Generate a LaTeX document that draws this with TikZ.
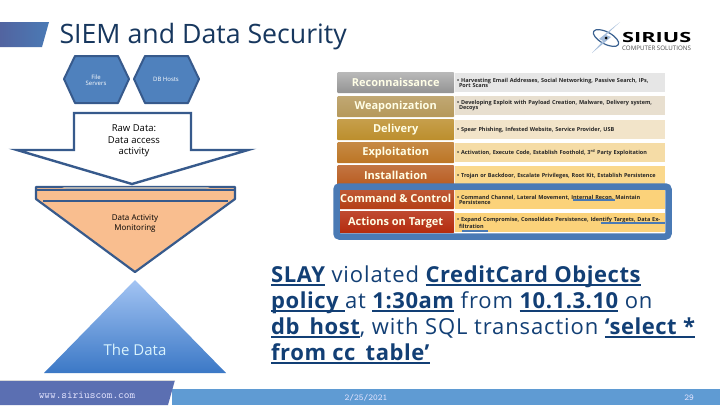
\documentclass[tikz,border=0pt]{standalone}
\usepackage{fontspec}
\usepackage{xcolor}
\usetikzlibrary{shapes}
\setmainfont{Open Sans}
\definecolor{darkline}{HTML}{375A8C}
\definecolor{frameblue}{HTML}{4A7AB5}
\definecolor{hexfill}{HTML}{4F81BD}
\definecolor{titleblue}{HTML}{17375E}
\definecolor{linkblue}{HTML}{123F75}
\definecolor{funnelfill}{HTML}{F9BE8F}
\definecolor{tritop}{HTML}{A3C4F3}
\definecolor{tribot}{HTML}{3B78C6}
\definecolor{footleft}{HTML}{5B6FB2}
\definecolor{footright}{HTML}{5F9BD3}
\definecolor{notea}{HTML}{E6E6E6}
\definecolor{noteb}{HTML}{E8DFCF}
\definecolor{notec}{HTML}{F2E4C9}
\definecolor{noted}{HTML}{F5DCA6}
\definecolor{notee}{HTML}{FAD88C}
\definecolor{notef}{HTML}{FBD27A}
\definecolor{barweapon}{HTML}{B5985A}
\definecolor{bardelivery}{HTML}{BC8E2C}
\definecolor{barexploit}{HTML}{BC7524}
\definecolor{barinstall}{HTML}{B85C20}
\definecolor{barcommand}{HTML}{B43E14}
\definecolor{baractions}{HTML}{B42A0C}
\newcommand{\fsize}[1]{\fontsize{#1}{#1}\selectfont}
\newcommand{\lnk}[1]{\setbox0\hbox{\bfseries\addfontfeatures{LetterSpace=2.5} #1}\rlap{\rule[-2.8pt]{\wd0}{1.4pt}}\box0{}}
\begin{document}
\begin{tikzpicture}[x=1pt,y=-1pt,
  hexbox/.style={draw=darkline,line width=2pt,fill=hexfill,line join=round},
  smalltext/.style={text=white,align=center,font=\fsize{6}},
  blackcap/.style={text=black,align=center},
  barbox/.style={anchor=north west,minimum width=117pt,minimum height=21pt,inner sep=0pt,rounded corners=1pt,text=white!90!yellow,font=\bfseries\fsize{11}},
  descbox/.style={anchor=north west,minimum width=210pt,text width=206pt,minimum height=19pt,inner sep=0pt,align=left,text=black!85,font=\bfseries\fsize{5.5}}]
\useasboundingbox (0,0) rectangle (720,405);
\fill[white] (0,0) rectangle (720,405);
% title
\shade[left color=footleft!90!black,right color=frameblue] (0,22) -- (49,22) -- (42,47) -- (0,47) -- cycle;
\node (title) [anchor=west,text=titleblue,font=\fsize{26.7}] at (56,37) {SIEM and Data Security};
% logo
\draw[frameblue!80!black,line width=1.2pt,rotate around={-28:(606,38)}] (606,38) ellipse (14 and 6);
\fill[frameblue!50] (620,22) -- (606,35) -- (611,37) -- (592,53) -- (603,41) -- (599,39) -- cycle;
\fill[black] (606,38) circle (1.5);
\node (sirius) [anchor=west,inner sep=0pt,text height=10pt,text depth=0pt,text=black,font=\bfseries\fsize{14}] at (622,37) {\scalebox{1.55}[1]{SIRIUS}};
\node (solutions) [anchor=west,inner sep=0pt,text height=4.5pt,text depth=0pt,text=black!70,font=\fsize{6.2}] at (622,48.5) {COMPUTER SOLUTIONS};
% hosts
\draw[hexbox] (75,56) -- (118,56) -- (129,79) -- (118,103) -- (75,103) -- (64,79) -- cycle;
\draw[hexbox] (145,56) -- (188,56) -- (199,79) -- (188,103) -- (145,103) -- (134,79) -- cycle;
\node (files) [smalltext] at (96,80) {File\\Servers};
\node (dbhosts) [smalltext] at (166,79) {DB Hosts};
% raw data arrow
\draw[draw=darkline,line width=2.4pt,fill=white,line join=miter] (74,113) -- (191,113) -- (191,150) -- (248,150) -- (132,184) -- (17,150) -- (74,150) -- cycle;
\node (rawdata) [blackcap,font=\fsize{9.5},align=center,inner sep=0pt] at (134,141) {Raw Data:\\[2pt]Data access\\[2pt]activity};
% funnel
\draw[draw=darkline,line width=2.2pt,fill=funnelfill,line join=round] (36,187) -- (235,187) -- (235,199) -- (135,272) -- (36,199) -- cycle;
\fill[gray!60] (62,187) -- (210,187) -- (205,189) -- (67,189) -- cycle;
\draw[darkline,line width=2pt] (36,190) -- (235,190);
\draw[darkline,line width=2pt] (43,201) -- (228,201);
\node (monitor) [blackcap,font=\fsize{8},align=center,inner sep=0pt] at (135,224) {Data Activity\\[2pt]Monitoring};
% the data
\shade[top color=tritop,bottom color=tribot] (135,280) -- (226,373) -- (44,373) -- cycle;
\node (thedata) [text=white!85!cyan,font=\fsize{15},inner sep=0pt] at (135,350) {The Data};
% kill chain
\node (recon) [barbox,top color=gray!55,bottom color=gray!85] at (337,72) {Reconnaissance};
\node (weapon) [barbox,top color=barweapon!85,bottom color=barweapon] at (337,96) {Weaponization};
\node (delivery) [barbox,top color=bardelivery!85,bottom color=bardelivery] at (337,119) {Delivery};
\node (exploit) [barbox,top color=barexploit!85,bottom color=barexploit] at (337,142) {Exploitation};
\node (install) [barbox,top color=barinstall!85,bottom color=barinstall] at (337,165) {Installation};
\node (command) [barbox,top color=barcommand!85,bottom color=barcommand] at (337,188) {Command \& Control};
\node (actions) [barbox,top color=baractions!85,bottom color=baractions,minimum height=22pt] at (337,211) {Actions on Target};
\node (reconnote) [descbox,fill=notea] at (455,73) {• Harvesting Email Addresses, Social Networking, Passive Search, IPs,\\ \ Port Scans};
\node (weaponnote) [descbox,fill=noteb] at (455,96) {• Developing Exploit with Payload Creation, Malware, Delivery system,\\ \ Decoys};
\node (deliverynote) [descbox,fill=notec] at (455,120) {• Spear Phishing, Infested Website, Service Provider, USB};
\node (exploitnote) [descbox,fill=noted] at (455,143) {• Activation, Execute Code, Establish Foothold, 3\textsuperscript{rd} Party Exploitation};
\node (installnote) [descbox,fill=notee] at (455,166) {• Trojan or Backdoor, Escalate Privileges, Root Kit, Establish Persistence};
\node (commandnote) [descbox,fill=notef] at (455,190) {• Command Channel, Lateral Movement, Internal Recon, Maintain\\ \ Persistence};
\node (actionsnote) [descbox,fill=notef] at (455,213) {• Expand Compromise, Consolidate Persistence, Identify Targets, Data Ex-\\ \ filtration};
\draw[frameblue,line width=6.5pt,rounded corners=3pt] (336.5,186.5) rectangle (668.5,236.5);
\draw[frameblue,line width=2.5pt] (573,200) -- (615,200);
\draw[frameblue,line width=2.5pt] (601,223) -- (665,223);
\draw[frameblue,line width=2pt] (462,231) -- (488,231);
% event text
\node (event) [anchor=north west,inner sep=0pt,align=left,text=linkblue,font=\fontsize{22}{26}\selectfont\addfontfeatures{LetterSpace=4}] at (271,266) {\lnk{SLAY} violated \lnk{CreditCard Objects}\\
\lnk{policy }at \lnk{1:30am} from \lnk{10.1.3.10} on\\
\lnk{db\_host}, with SQL transaction \lnk{‘select *}\\
\lnk{from cc\_table’}};
% footer
\fill[footright] (172,389) rectangle (720,405);
\fill[footleft] (0,380) -- (175,380) -- (168,405) -- (0,405) -- cycle;
\draw[white!70!gray,line width=0.6pt] (0,380) -- (175,380);
\node (site) [text=white!90!blue,font=\ttfamily\fsize{10.8}] at (87,395) {www.siriuscom.com};
\node (date) [text=white!90!blue,font=\ttfamily\fsize{9}] at (366,398) {2/25/2021};
\node (page) [text=white!90!blue,font=\ttfamily\fsize{9}] at (689,398) {29};
\end{tikzpicture}
\end{document}
